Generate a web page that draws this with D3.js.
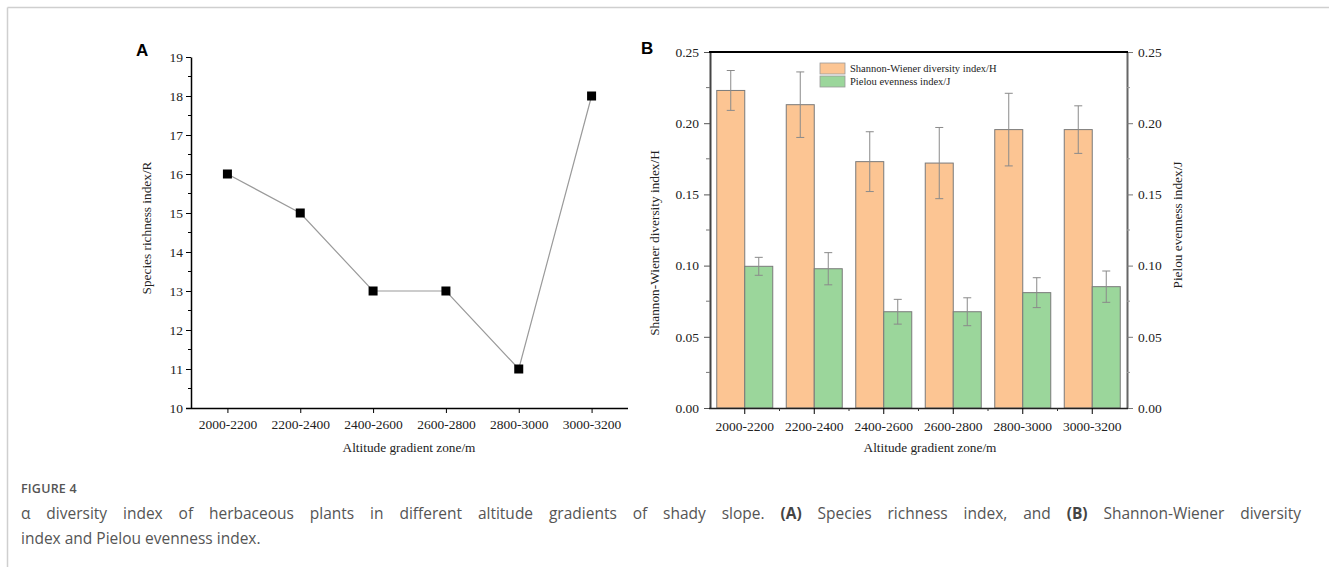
<!DOCTYPE html>
<html lang="en">
<head>
  <meta charset="UTF-8">
  <title>Figure 4 - alpha diversity</title>
  <script src="https://d3js.org/d3.v7.min.js"></script>
  <style>
    body { margin: 0; background: #fff; }
    svg text { font-family: 'Liberation Serif', 'Times New Roman', serif; fill: #222; }
    .axis-title { font-size: 13.3px; }
    .legend text { font-size: 10.5px; }
    .panel-tag { font-family: 'Liberation Sans', Arial, sans-serif !important; font-weight: 700; font-size: 17px; fill: #000 !important; }
    .caption { font-family: 'Open Sans', sans-serif !important; fill: #555 !important; }
  </style>
</head>
<body>
  <svg id="fig" width="1329" height="567"></svg>

  <script>
    // data
    const zones = ["2000-2200", "2200-2400", "2400-2600", "2600-2800", "2800-3000", "3000-3200"];
    const richness = [16, 15, 13, 13, 11, 18];
    const shannon = [0.223, 0.213, 0.173, 0.172, 0.1955, 0.1955];
    const shannonErr = [0.014, 0.023, 0.021, 0.025, 0.0255, 0.0167];
    const pielou = [0.0995, 0.0978, 0.0676, 0.0676, 0.081, 0.0852];
    const pielouErr = [0.0063, 0.0113, 0.0087, 0.0098, 0.0105, 0.011];
    const richTicks = [10, 11, 12, 13, 14, 15, 16, 17, 18, 19];
    const indexTicks = [0, 0.05, 0.10, 0.15, 0.20, 0.25];
    const legendNames = ["Shannon-Wiener diversity index/H", "Pielou evenness index/J"];
    const barColors = ["#fcc593", "#9bd69b"];

    const svg = d3.select("#fig");

    // serif labels on all axes
    function styleAxis(g) {
      g.attr("font-family", "'Liberation Serif', 'Times New Roman', serif")
       .attr("font-size", 13.5);
      g.selectAll("text").style("fill", "#222");
    }

    // outer frame (top and left rules)
    svg.append("line").attr("x1", 7.5).attr("x2", 1329).attr("y1", 7.5).attr("y2", 7.5)
      .attr("stroke", "#cfcfcf").attr("stroke-width", 1.5);
    svg.append("line").attr("x1", 7.5).attr("x2", 7.5).attr("y1", 7.5).attr("y2", 567)
      .attr("stroke", "#cfcfcf").attr("stroke-width", 1.5);

    // ---------- Panel A ----------
    const xA = d3.scalePoint().domain(zones).range([191, 628]).padding(0.5);
    const yA = d3.scaleLinear().domain([10, 19]).range([408, 57]);

    const leftA = svg.append("g").attr("transform", "translate(191,0)")
      .call(d3.axisLeft(yA).tickValues(richTicks).tickSizeInner(5).tickSizeOuter(0).tickPadding(3))
      .call(styleAxis);
    leftA.select(".domain").attr("stroke", "#000").attr("stroke-width", 1.5);
    // minor ticks
    svg.append("g").selectAll("line")
      .data(richTicks.slice(0, -1).map(d => d + 0.5))
      .join("line")
      .attr("x1", 188).attr("x2", 191)
      .attr("y1", d => yA(d)).attr("y2", d => yA(d))
      .attr("stroke", "#000");
    const botA = svg.append("g").attr("transform", "translate(0,408)")
      .call(d3.axisBottom(xA).tickSizeInner(5).tickSizeOuter(0).tickPadding(6))
      .call(styleAxis);
    botA.select(".domain").attr("d", "M186,0.5H628").attr("stroke", "#000").attr("stroke-width", 1.5);

    svg.append("path")
      .datum(richness)
      .attr("fill", "none")
      .attr("stroke", "#9a9a9a")
      .attr("stroke-width", 1.2)
      .attr("d", d3.line().x((d, i) => xA(zones[i])).y(d => yA(d)));

    svg.append("g").selectAll("rect")
      .data(richness)
      .join("rect")
      .attr("x", (d, i) => xA(zones[i]) - 4.5)
      .attr("y", d => yA(d) - 4.5)
      .attr("width", 9).attr("height", 9)
      .attr("fill", "#000");

    svg.append("text").attr("class", "panel-tag").attr("x", 136).attr("y", 56).text("A");
    svg.append("text").attr("class", "axis-title")
      .attr("transform", "translate(151,228) rotate(-90)")
      .attr("text-anchor", "middle")
      .text("Species richness index/R");
    svg.append("text").attr("class", "axis-title")
      .attr("x", 409).attr("y", 452).attr("text-anchor", "middle")
      .text("Altitude gradient zone/m");

    // ---------- Panel B ----------
    const xB = d3.scaleBand().domain(zones).range([710, 1127]).padding(0);
    const yB = d3.scaleLinear().domain([0, 0.25]).range([408, 52]);
    const barW = 28;
    const fmt = d3.format(".2f");
    const minorB = d3.range(0.025, 0.25, 0.05);

    const series = [
      {vals: shannon, err: shannonErr, off: -barW, color: barColors[0]},
      {vals: pielou, err: pielouErr, off: 0, color: barColors[1]}
    ];

    series.forEach(s => {
      svg.append("g").selectAll("rect")
        .data(s.vals)
        .join("rect")
        .attr("x", (d, i) => xB(zones[i]) + xB.bandwidth() / 2 + s.off)
        .attr("y", d => yB(d))
        .attr("width", barW)
        .attr("height", d => yB(0) - yB(d))
        .attr("fill", s.color)
        .attr("stroke", "#7a7a7a")
        .attr("stroke-width", 1);
    });

    series.forEach(s => {
      const eb = svg.append("g").attr("stroke", "#8a8a8a").attr("stroke-width", 1);
      s.vals.forEach((v, i) => {
        const cx = xB(zones[i]) + xB.bandwidth() / 2 + s.off + barW / 2;
        const lo = yB(v - s.err[i]), hi = yB(v + s.err[i]);
        eb.append("line").attr("x1", cx).attr("x2", cx).attr("y1", lo).attr("y2", hi);
        eb.append("line").attr("x1", cx - 4).attr("x2", cx + 4).attr("y1", lo).attr("y2", lo);
        eb.append("line").attr("x1", cx - 4).attr("x2", cx + 4).attr("y1", hi).attr("y2", hi);
      });
    });

    // left axis
    const leftB = svg.append("g").attr("transform", "translate(710,0)")
      .call(d3.axisLeft(yB).tickValues(indexTicks).tickFormat(fmt).tickSizeInner(6).tickSizeOuter(0).tickPadding(5))
      .call(styleAxis);
    leftB.select(".domain").attr("stroke", "#444").attr("stroke-width", 2);
    leftB.selectAll(".tick line").attr("stroke", "#555");
    svg.append("g").selectAll("line").data(minorB).join("line")
      .attr("x1", 706).attr("x2", 710).attr("y1", d => yB(d)).attr("y2", d => yB(d))
      .attr("stroke", "#777");

    // right axis
    const rightB = svg.append("g").attr("transform", "translate(1127,0)")
      .call(d3.axisRight(yB).tickValues(indexTicks).tickFormat(fmt).tickSizeInner(6).tickSizeOuter(0).tickPadding(5))
      .call(styleAxis);
    rightB.select(".domain").attr("stroke", "#666").attr("stroke-width", 2);
    rightB.selectAll(".tick line").attr("stroke", "#777");
    svg.append("g").selectAll("line").data(minorB).join("line")
      .attr("x1", 1127).attr("x2", 1130).attr("y1", d => yB(d)).attr("y2", d => yB(d))
      .attr("stroke", "#999");

    // top rule
    svg.append("line").attr("x1", 709).attr("x2", 1128).attr("y1", 52).attr("y2", 52)
      .attr("stroke", "#000").attr("stroke-width", 2);

    // bottom axis
    const botB = svg.append("g").attr("transform", "translate(0,408)")
      .call(d3.axisBottom(xB).tickSizeInner(6).tickSizeOuter(0).tickPadding(7))
      .call(styleAxis);
    botB.select(".domain").attr("d", "M709,0.5H1128").attr("stroke", "#222").attr("stroke-width", 1.5);
    svg.append("g").selectAll("line").data(zones.slice(1)).join("line")
      .attr("x1", d => xB(d)).attr("x2", d => xB(d)).attr("y1", 408).attr("y2", 411)
      .attr("stroke", "#333");

    // legend
    const legend = svg.append("g").attr("class", "legend");
    legendNames.forEach((name, i) => {
      legend.append("rect")
        .attr("x", 820).attr("y", 63 + i * 13).attr("width", 25).attr("height", 11)
        .attr("fill", barColors[i]).attr("stroke", "#999").attr("stroke-width", 0.8);
      legend.append("text").attr("x", 850).attr("y", 72 + i * 13).text(name);
    });

    svg.append("text").attr("class", "panel-tag").attr("x", 641).attr("y", 54).text("B");
    svg.append("text").attr("class", "axis-title")
      .attr("transform", "translate(659,243) rotate(-90)")
      .attr("text-anchor", "middle")
      .text("Shannon-Wiener diversity index/H");
    svg.append("text").attr("class", "axis-title")
      .attr("transform", "translate(1182,225) rotate(-90)")
      .attr("text-anchor", "middle")
      .text("Pielou evenness index/J");
    svg.append("text").attr("class", "axis-title")
      .attr("x", 930).attr("y", 452).attr("text-anchor", "middle")
      .text("Altitude gradient zone/m");

    // ---------- caption ----------
    svg.append("text").attr("class", "caption")
      .attr("x", 21).attr("y", 493)
      .style("font-size", "12.5px").style("font-weight", 600).style("letter-spacing", "0.2px")
      .text("FIGURE 4");
    const cap1 = svg.append("text").attr("class", "caption")
      .attr("x", 21).attr("y", 519).style("font-size", "15.5px");
    cap1.append("tspan").text("\u03B1 diversity index of herbaceous plants in different altitude gradients of shady slope. ");
    cap1.append("tspan").style("font-weight", 700).style("fill", "#444").text("(A)");
    cap1.append("tspan").text(" Species richness index, and ");
    cap1.append("tspan").style("font-weight", 700).style("fill", "#444").text("(B)");
    cap1.append("tspan").text(" Shannon-Wiener diversity");
    // justified first line: spread the word gaps to the right edge
    const natural = cap1.node().getComputedTextLength();
    const gaps = (cap1.text().match(/ /g) || []).length;
    cap1.style("word-spacing", ((1301 - 21 - natural) / gaps) + "px");
    svg.append("text").attr("class", "caption")
      .attr("x", 21).attr("y", 544).style("font-size", "15.5px")
      .text("index and Pielou evenness index.");
  </script>
</body>
</html>
